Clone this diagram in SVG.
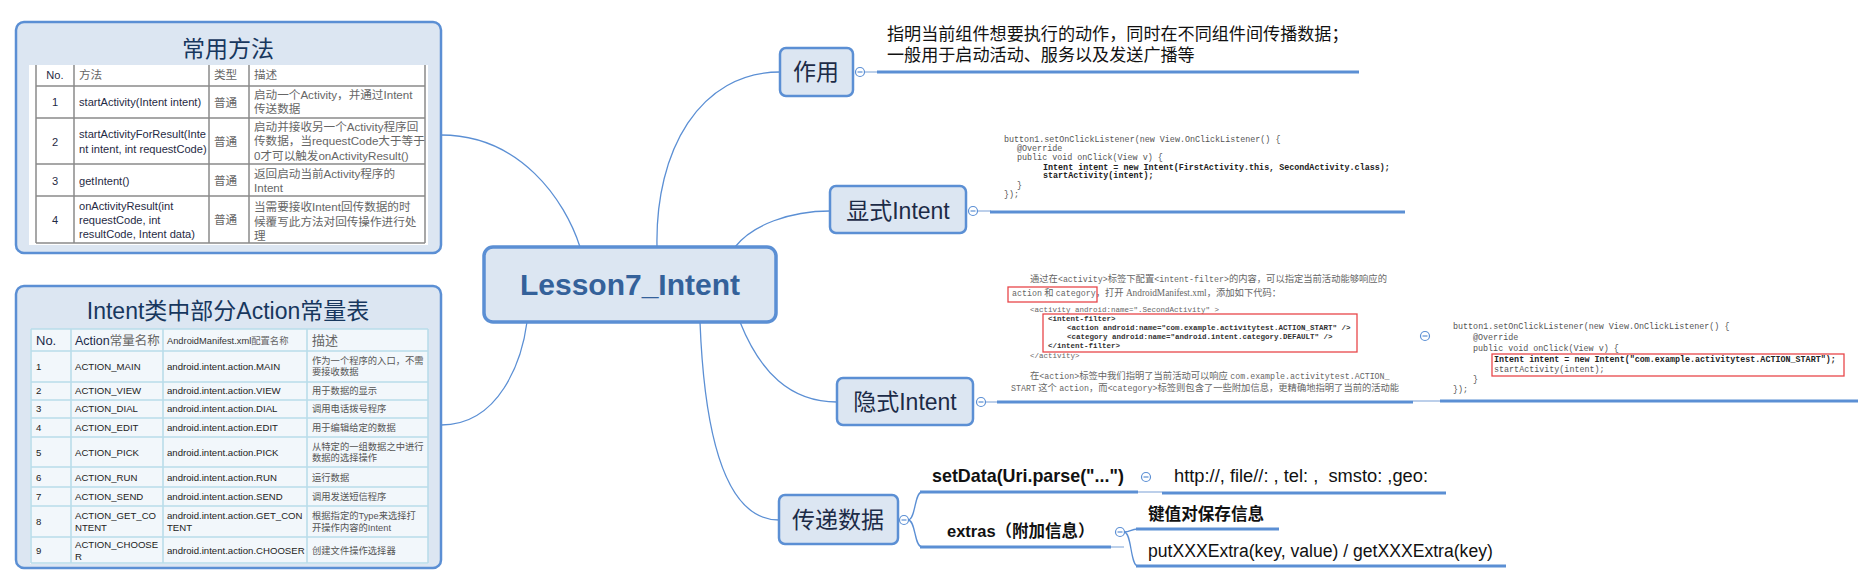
<svg xmlns="http://www.w3.org/2000/svg" width="1876" height="588" viewBox="0 0 1876 588">
<style>
text { font-family: "Liberation Sans","Noto Sans CJK SC",sans-serif; white-space: pre; }
.mono { font-family: "Liberation Mono","Noto Sans CJK SC",monospace; }
.box { fill:#dce6f2; stroke:#5b8fd4; stroke-width:2.5; }
.lbl { font-size:23px; fill:#1c2b47; text-anchor:middle; }
.conn { fill:none; stroke:#5b8fd4; stroke-width:1.3; }
.ul { stroke:#5b8fd4; stroke-width:3.2; }
.thin { stroke:#8fb0dc; stroke-width:1.2; }
.cb { fill:#fff; stroke:#5b8fd4; stroke-width:1.2; }
.cbm { stroke:#5b8fd4; stroke-width:1.2; }
.t1g { stroke:#8a8a8a; stroke-width:1.5; }
.t1e { font-size:11.1px; fill:#1f2a44; }
.t1c { font-size:11.6px; fill:#666; }
.t2g { stroke:#b9dcea; stroke-width:1.6; }
.t2e { font-size:9.6px; fill:#222; }
.t2c { font-size:9.3px; fill:#555; }
.code { font-size:8.4px; fill:#555; }
.codeb { font-size:8.4px; fill:#222; font-weight:bold; }
.xml { font-size:7.5px; fill:#666; }
.xmlb { font-size:7.5px; fill:#333; font-weight:bold; }
.cn9 { font-family: "Liberation Serif","Noto Sans CJK SC",serif; font-size:9.3px; fill:#666; }
.m9 { font-family: "Liberation Mono",monospace; font-size:8.3px; }
.red { fill:none; stroke:#e8474a; stroke-width:1.3; }
</style>

<g id="connectors">
  <path class="conn" d="M657,247 C655,150 700,72 780,72"/>
  <path class="conn" d="M735,247 C752,225 790,211 830,211"/>
  <path class="conn" d="M740,322 C760,372 790,402 837,402"/>
  <path class="conn" d="M700,322 C705,450 730,520 779,520"/>
  <path class="conn" d="M441,135 C520,135 565,200 580,247"/>
  <path class="conn" d="M441,425 C500,425 522,360 527,322"/>
  <path class="conn" d="M908,520 C916,520 914,492 922,492"/>
  <path class="conn" d="M908,520 C916,520 914,547 922,547"/>
  <path class="conn" d="M1124,532 C1131,532 1130,529 1138,529"/>
  <path class="conn" d="M1124,532 C1132,532 1130,566 1138,566"/>
</g>

<g id="node-methods-table">
  <rect class="box" x="16" y="22" width="425" height="231" rx="8"/>
  <text x="228" y="57" font-size="23" fill="#17375e" text-anchor="middle">常用方法</text>
  <rect x="29" y="65" width="399" height="180" fill="#fff"/>
  <g class="t1g">
    <line x1="36" y1="65" x2="36" y2="243"/>
    <line x1="74" y1="65" x2="74" y2="243"/>
    <line x1="209" y1="65" x2="209" y2="243"/>
    <line x1="249" y1="65" x2="249" y2="243"/>
    <line x1="425" y1="65" x2="425" y2="243"/>
    <line x1="36" y1="86" x2="425" y2="86"/>
    <line x1="36" y1="118" x2="425" y2="118"/>
    <line x1="36" y1="164" x2="425" y2="164"/>
    <line x1="36" y1="196" x2="425" y2="196"/>
    <line x1="36" y1="243" x2="425" y2="243"/>
  </g>
  <text class="t1e" x="55" y="79" text-anchor="middle">No.</text>
  <text class="t1c" x="79" y="79">方法</text>
  <text class="t1c" x="214" y="79">类型</text>
  <text class="t1c" x="254" y="79">描述</text>

  <text class="t1e" x="55" y="106" text-anchor="middle">1</text>
  <text class="t1e" x="79" y="106">startActivity(Intent intent)</text>
  <text class="t1c" x="214" y="107">普通</text>
  <text class="t1c" x="254" y="99">启动一个Activity，并通过Intent</text>
  <text class="t1c" x="254" y="113">传送数据</text>

  <text class="t1e" x="55" y="146" text-anchor="middle">2</text>
  <text class="t1e" x="79" y="138">startActivityForResult(Inte</text>
  <text class="t1e" x="79" y="153">nt intent, int requestCode)</text>
  <text class="t1c" x="214" y="146">普通</text>
  <text class="t1c" x="254" y="131">启动并接收另一个Activity程序回</text>
  <text class="t1c" x="254" y="145">传数据，当requestCode大于等于</text>
  <text class="t1c" x="254" y="160">0才可以触发onActivityResult()</text>

  <text class="t1e" x="55" y="185" text-anchor="middle">3</text>
  <text class="t1e" x="79" y="185">getIntent()</text>
  <text class="t1c" x="214" y="185">普通</text>
  <text class="t1c" x="254" y="178">返回启动当前Activity程序的</text>
  <text class="t1c" x="254" y="192">Intent</text>

  <text class="t1e" x="55" y="224" text-anchor="middle">4</text>
  <text class="t1e" x="79" y="210">onActivityResult(int</text>
  <text class="t1e" x="79" y="224">requestCode, int</text>
  <text class="t1e" x="79" y="238">resultCode, Intent data)</text>
  <text class="t1c" x="214" y="224">普通</text>
  <text class="t1c" x="254" y="211">当需要接收Intent回传数据的时</text>
  <text class="t1c" x="254" y="226">候覆写此方法对回传操作进行处</text>
  <text class="t1c" x="254" y="240">理</text>
</g>

<g id="node-actions-table">
  <rect class="box" x="16" y="286" width="425" height="282" rx="8"/>
  <text x="228" y="319" font-size="23" fill="#17375e" text-anchor="middle">Intent类中部分Action常量表</text>
  <rect x="30" y="329" width="398" height="235" fill="#f2f7fb"/>
  <g class="t2g">
    <line x1="31" y1="329" x2="31" y2="563"/>
    <line x1="71" y1="329" x2="71" y2="563"/>
    <line x1="163" y1="329" x2="163" y2="563"/>
    <line x1="307" y1="329" x2="307" y2="563"/>
    <line x1="428" y1="329" x2="428" y2="563"/>
    <line x1="31" y1="329" x2="428" y2="329"/>
    <line x1="31" y1="351" x2="428" y2="351"/>
    <line x1="31" y1="382" x2="428" y2="382"/>
    <line x1="31" y1="400" x2="428" y2="400"/>
    <line x1="31" y1="418" x2="428" y2="418"/>
    <line x1="31" y1="437" x2="428" y2="437"/>
    <line x1="31" y1="467" x2="428" y2="467"/>
    <line x1="31" y1="487" x2="428" y2="487"/>
    <line x1="31" y1="506" x2="428" y2="506"/>
    <line x1="31" y1="537" x2="428" y2="537"/>
    <line x1="31" y1="563" x2="428" y2="563"/>
  </g>
  <text x="36" y="345" font-size="13" fill="#1a2a4a">No.</text>
  <text x="75" y="345" font-size="12.5" fill="#1a2a4a">Action<tspan fill="#666">常量名称</tspan></text>
  <text x="167" y="344" font-size="9.3" fill="#333">AndroidManifest.xml<tspan fill="#666">配置名称</tspan></text>
  <text x="312" y="345" font-size="13" fill="#666">描述</text>

  <text class="t2e" x="36" y="370">1</text>
  <text class="t2e" x="75" y="370">ACTION_MAIN</text>
  <text class="t2e" x="167" y="370">android.intent.action.MAIN</text>
  <text class="t2c" x="312" y="364">作为一个程序的入口，不需</text>
  <text class="t2c" x="312" y="375">要接收数据</text>

  <text class="t2e" x="36" y="394">2</text>
  <text class="t2e" x="75" y="394">ACTION_VIEW</text>
  <text class="t2e" x="167" y="394">android.intent.action.VIEW</text>
  <text class="t2c" x="312" y="394">用于数据的显示</text>

  <text class="t2e" x="36" y="412">3</text>
  <text class="t2e" x="75" y="412">ACTION_DIAL</text>
  <text class="t2e" x="167" y="412">android.intent.action.DIAL</text>
  <text class="t2c" x="312" y="412">调用电话拨号程序</text>

  <text class="t2e" x="36" y="431">4</text>
  <text class="t2e" x="75" y="431">ACTION_EDIT</text>
  <text class="t2e" x="167" y="431">android.intent.action.EDIT</text>
  <text class="t2c" x="312" y="431">用于编辑给定的数据</text>

  <text class="t2e" x="36" y="456">5</text>
  <text class="t2e" x="75" y="456">ACTION_PICK</text>
  <text class="t2e" x="167" y="456">android.intent.action.PICK</text>
  <text class="t2c" x="312" y="450">从特定的一组数据之中进行</text>
  <text class="t2c" x="312" y="461">数据的选择操作</text>

  <text class="t2e" x="36" y="481">6</text>
  <text class="t2e" x="75" y="481">ACTION_RUN</text>
  <text class="t2e" x="167" y="481">android.intent.action.RUN</text>
  <text class="t2c" x="312" y="481">运行数据</text>

  <text class="t2e" x="36" y="500">7</text>
  <text class="t2e" x="75" y="500">ACTION_SEND</text>
  <text class="t2e" x="167" y="500">android.intent.action.SEND</text>
  <text class="t2c" x="312" y="500">调用发送短信程序</text>

  <text class="t2e" x="36" y="525">8</text>
  <text class="t2e" x="75" y="519">ACTION_GET_CO</text>
  <text class="t2e" x="75" y="531">NTENT</text>
  <text class="t2e" x="167" y="519">android.intent.action.GET_CON</text>
  <text class="t2e" x="167" y="531">TENT</text>
  <text class="t2c" x="312" y="519">根据指定的Type来选择打</text>
  <text class="t2c" x="312" y="531">开操作内容的Intent</text>

  <text class="t2e" x="36" y="554">9</text>
  <text class="t2e" x="75" y="548">ACTION_CHOOSE</text>
  <text class="t2e" x="75" y="560">R</text>
  <text class="t2e" x="167" y="554">android.intent.action.CHOOSER</text>
  <text class="t2c" x="312" y="554">创建文件操作选择器</text>
</g>

<g id="node-center">
  <rect x="484" y="247" width="292" height="75" rx="9" fill="#dce6f2" stroke="#5b8fd4" stroke-width="3.5"/>
  <text x="630" y="295" font-size="30" font-weight="bold" fill="#34619a" text-anchor="middle">Lesson7_Intent</text>
</g>

<g id="node-zuoyong">
  <rect class="box" x="780" y="48" width="73" height="48" rx="6"/>
  <text class="lbl" x="816" y="80" font-size="22">作用</text>
  <line class="thin" x1="864" y1="72" x2="878" y2="72"/>
  <circle class="cb" cx="860" cy="72" r="4.5"/><line class="cbm" x1="857.5" y1="72" x2="862.5" y2="72"/>
</g>

<g id="node-zuoyong-desc">
  <text x="887" y="40" font-size="17.1" fill="#111">指明当前组件想要执行的动作，同时在不同组件间传播数据；</text>
  <text x="887" y="61" font-size="17.1" fill="#111">一般用于启动活动、服务以及发送广播等</text>
  <line class="ul" x1="877" y1="72" x2="1359" y2="72"/>
</g>

<g id="node-explicit">
  <rect class="box" x="830" y="186" width="136" height="47" rx="6"/>
  <text class="lbl" x="898" y="219">显式Intent</text>
  <line class="thin" x1="977" y1="211" x2="991" y2="211"/>
  <circle class="cb" cx="973" cy="211" r="4.5"/><line class="cbm" x1="970.5" y1="211" x2="975.5" y2="211"/>
</g>

<g id="node-explicit-code">
  <text class="mono code" x="1004" y="142">button1.setOnClickListener(new View.OnClickListener() {</text>
  <text class="mono code" x="1017" y="151">@Override</text>
  <text class="mono code" x="1017" y="160">public void onClick(View v) {</text>
  <text class="mono codeb" x="1043" y="170">Intent intent = new Intent(FirstActivity.this, SecondActivity.class);</text>
  <text class="mono codeb" x="1043" y="178">startActivity(intent);</text>
  <text class="mono code" x="1017" y="188">}</text>
  <text class="mono code" x="1004" y="197">});</text>
  <line class="ul" x1="990" y1="212" x2="1405" y2="212"/>
</g>

<g id="node-implicit">
  <rect class="box" x="837" y="378" width="136" height="47" rx="6"/>
  <text class="lbl" x="905" y="410">隐式Intent</text>
  <line class="thin" x1="985" y1="402" x2="998" y2="402"/>
  <circle class="cb" cx="981" cy="402" r="4.5"/><line class="cbm" x1="978.5" y1="402" x2="983.5" y2="402"/>
</g>

<g id="node-implicit-xml">
  <text class="cn9" x="1030" y="282">通过在<tspan class="m9">&lt;activity&gt;</tspan>标签下配置<tspan class="m9">&lt;intent-filter&gt;</tspan>的内容，可以指定当前活动能够响应的</text>
  <text class="cn9" x="1012" y="296"><tspan class="m9">action</tspan> 和 <tspan class="m9">category</tspan>，打开 AndroidManifest.xml，添加如下代码：</text>
  <rect class="red" x="1008" y="287" width="89" height="15"/>
  <text class="mono xml" x="1030" y="312">&lt;activity android:name=".SecondActivity" &gt;</text>
  <text class="mono xmlb" x="1048" y="321">&lt;intent-filter&gt;</text>
  <text class="mono xmlb" x="1067" y="330">&lt;action android:name="com.example.activitytest.ACTION_START" /&gt;</text>
  <text class="mono xmlb" x="1067" y="339">&lt;category android:name="android.intent.category.DEFAULT" /&gt;</text>
  <text class="mono xmlb" x="1048" y="348">&lt;/intent-filter&gt;</text>
  <rect class="red" x="1043" y="314" width="314" height="38"/>
  <text class="mono xml" x="1030" y="358">&lt;/activity&gt;</text>
  <text class="cn9" x="1030" y="379">在<tspan class="m9">&lt;action&gt;</tspan>标签中我们指明了当前活动可以响应 <tspan class="m9">com.example.activitytest.ACTION_</tspan></text>
  <text class="cn9" x="1011" y="391"><tspan class="m9">START</tspan> 这个 <tspan class="m9">action</tspan>，而<tspan class="m9">&lt;category&gt;</tspan>标签则包含了一些附加信息，更精确地指明了当前的活动能</text>
  <line class="ul" x1="997" y1="402" x2="1413" y2="402"/>
  <line class="thin" x1="1413" y1="401" x2="1440" y2="401"/>
  <circle class="cb" cx="1425" cy="336" r="4.5"/><line class="cbm" x1="1422.5" y1="336" x2="1427.5" y2="336"/>
</g>

<g id="node-implicit-code">
  <text class="mono code" x="1453" y="329" font-size="8.5">button1.setOnClickListener(new View.OnClickListener() {</text>
  <text class="mono code" x="1473" y="340" font-size="8.5">@Override</text>
  <text class="mono code" x="1473" y="351" font-size="8.5">public void onClick(View v) {</text>
  <text class="mono codeb" x="1494" y="362" font-size="8.5">Intent intent = new Intent("com.example.activitytest.ACTION_START");</text>
  <text class="mono code" x="1494" y="372" font-size="8.5">startActivity(intent);</text>
  <rect class="red" x="1492" y="354" width="352" height="22"/>
  <text class="mono code" x="1473" y="382" font-size="8.5">}</text>
  <text class="mono code" x="1453" y="392" font-size="8.5">});</text>
  <line class="ul" x1="1440" y1="401" x2="1858" y2="401"/>
</g>

<g id="node-transfer">
  <rect class="box" x="779" y="495" width="119" height="49" rx="6"/>
  <text class="lbl" x="838" y="528">传递数据</text>
  <circle class="cb" cx="904" cy="520" r="4.5"/><line class="cbm" x1="901.5" y1="520" x2="906.5" y2="520"/>
</g>

<g id="node-setdata">
  <text x="932" y="482" font-size="17.9" font-weight="bold" fill="#111">setData(Uri.parse("...")</text>
  <line class="ul" x1="920" y1="492" x2="1138" y2="492"/>
  <line class="thin" x1="1138" y1="492" x2="1162" y2="492"/>
  <circle class="cb" cx="1146" cy="477" r="4.5"/><line class="cbm" x1="1143.5" y1="477" x2="1148.5" y2="477"/>
</g>

<g id="node-setdata-values">
  <text x="1174" y="482" font-size="18.3" fill="#111">http://, file//: , tel: ,  smsto: ,geo:</text>
  <line class="ul" x1="1162" y1="493" x2="1446" y2="493"/>
</g>

<g id="node-extras">
  <text x="947" y="537" font-size="16.5" font-weight="bold" fill="#111">extras（附加信息）</text>
  <line class="ul" x1="920" y1="547" x2="1111" y2="547"/>
  <line class="thin" x1="1111" y1="547" x2="1124" y2="547"/>
  <circle class="cb" cx="1120" cy="532" r="4.5"/><line class="cbm" x1="1117.5" y1="532" x2="1122.5" y2="532"/>
</g>

<g id="node-kv">
  <text x="1148" y="520" font-size="16.6" font-weight="bold" fill="#111">键值对保存信息</text>
  <line class="ul" x1="1136" y1="529" x2="1279" y2="529"/>
</g>

<g id="node-putget">
  <text x="1148" y="557" font-size="17.6" fill="#111">putXXXExtra(key, value) / getXXXExtra(key)</text>
  <line class="ul" x1="1136" y1="566" x2="1506" y2="566"/>
</g>
</svg>
